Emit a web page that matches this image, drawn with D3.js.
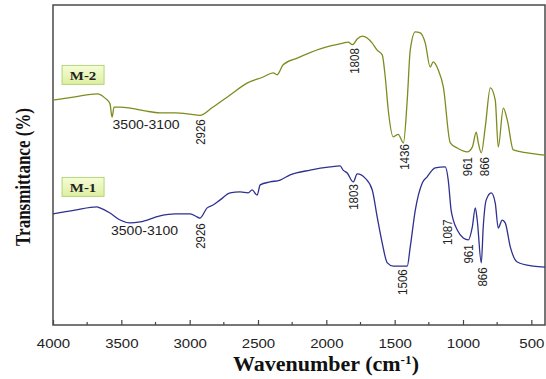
<!DOCTYPE html>
<html>
<head>
<meta charset="utf-8">
<script src="https://cdn.jsdelivr.net/npm/d3@7"></script>
<style>
  body { margin: 0; background: #fff; }
  svg { display: block; }
</style>
</head>
<body>
<svg id="chart" width="546" height="379"></svg>
<script>
// wavenumber (cm-1), transmittance (arbitrary %)
const m2Spectrum = [
  [4000, 70.3], [3839, 71.3], [3678, 72.2], [3619, 70.9], [3583, 69.1], [3568, 65.0],
  [3553, 68.1], [3509, 68.1], [3436, 67.8], [3326, 66.9], [3217, 66.3], [3107, 66.3],
  [2997, 65.9], [2926, 65.5], [2829, 68.1], [2704, 71.9], [2580, 75.6], [2462, 77.5],
  [2389, 78.8], [2360, 78.2], [2316, 81.3], [2213, 83.4], [2045, 86.3], [1877, 88.1],
  [1840, 88.4], [1808, 87.6], [1774, 89.4], [1737, 90.3], [1701, 89.7], [1664, 88.1],
  [1628, 85.9], [1591, 84.4], [1569, 77.5], [1547, 67.2], [1510, 58.8], [1474, 59.6],
  [1436, 56.9], [1408, 70.3], [1386, 85.9], [1349, 91.6], [1313, 91.3], [1276, 88.1],
  [1240, 80.6], [1218, 82.2], [1181, 79.7], [1144, 74.4], [1093, 56.9], [1042, 55.3],
  [969, 54.1], [932, 55.6], [903, 60.3], [888, 56.9], [866, 53.8], [837, 61.9],
  [800, 74.1], [764, 70.3], [742, 55.6], [705, 67.8], [676, 64.1], [632, 54.7],
  [529, 53.8], [400, 53.1]
];

const m1Spectrum = [
  [4000, 34.7], [3839, 35.9], [3678, 36.9], [3656, 36.6], [3583, 35.0], [3509, 32.8],
  [3436, 31.9], [3363, 32.2], [3217, 34.1], [3107, 34.7], [2997, 34.7], [2946, 33.8],
  [2926, 33.4], [2872, 36.6], [2829, 37.5], [2777, 39.1], [2704, 41.3], [2631, 41.6],
  [2572, 41.3], [2543, 42.2], [2506, 40.6], [2484, 43.8], [2411, 44.7], [2338, 45.3],
  [2265, 46.9], [2118, 48.4], [1972, 49.4], [1899, 49.7], [1877, 48.4], [1847, 47.5],
  [1803, 44.7], [1774, 47.2], [1716, 45.9], [1664, 42.2], [1628, 33.8], [1591, 25.6],
  [1554, 19.4], [1510, 18.4], [1408, 18.4], [1386, 24.4], [1349, 35.9], [1298, 44.4],
  [1262, 46.3], [1225, 48.4], [1203, 49.1], [1130, 49.4], [1108, 45.3], [1087, 35.9],
  [1071, 32.8], [1042, 29.7], [998, 27.2], [961, 26.6], [932, 30.6], [910, 36.6],
  [896, 32.8], [866, 19.4], [852, 30.6], [830, 39.1], [793, 41.3], [764, 38.1],
  [742, 30.3], [713, 32.8], [691, 31.9], [654, 24.4], [603, 19.7], [485, 18.4],
  [400, 18.1]
];

const majorTicks = [4000, 3500, 3000, 2500, 2000, 1500, 1000, 500];
const minorTicks = [3750, 3250, 2750, 2250, 1750, 1250, 750];

// [label, wavenumber where it sits, transmittance level, rotated]
const m2Notes = [
  ["3500-3100", 3319, 62.5, false],
  ["2926", 2916, 60.3, true],
  ["1808", 1790, 82.5, true],
  ["1436", 1426, 52.5, true],
  ["961", 968, 49.5, true],
  ["866", 844, 49.5, true]
];
const m1Notes = [
  ["3500-3100", 3330, 29.4, false],
  ["2926", 2916, 27.8, true],
  ["1803", 1796, 40.0, true],
  ["1506", 1440, 13.4, true],
  ["1087", 1115, 29.0, true],
  ["961", 961, 22.2, true],
  ["866", 855, 15.0, true]
];

const samples = [
  { name: "M-2", data: m2Spectrum, notes: m2Notes, color: "#7f8b1e", tag: 78 },
  { name: "M-1", data: m1Spectrum, notes: m1Notes, color: "#2e318f", tag: 43 }
];

const svg = d3.select("#chart");
const plotLeft = 53, plotRight = 545, plotTop = 5, plotBottom = 325;

const x = d3.scaleLinear().domain([4000, 400]).range([plotLeft, plotRight]);
const y = d3.scaleLinear().domain([0, 100]).range([plotBottom, plotTop]);

// gradient for the name boxes
const grad = svg.append("defs").append("linearGradient")
  .attr("id", "tagFill").attr("x1", 0).attr("y1", 0).attr("x2", 0).attr("y2", 1);
grad.append("stop").attr("offset", "0%").attr("stop-color", "#f6fcd8");
grad.append("stop").attr("offset", "100%").attr("stop-color", "#ddefa0");

// x axis with inward ticks
const xAxis = svg.append("g")
  .attr("transform", `translate(0,${plotBottom})`)
  .call(d3.axisBottom(x).tickValues(majorTicks).tickSize(-5).tickPadding(14).tickFormat(d3.format("d")));
xAxis.select(".domain").remove();
xAxis.selectAll(".tick line").attr("stroke", "#444").attr("stroke-width", 1.2);
xAxis.selectAll(".tick text")
  .attr("font-family", "Liberation Sans, Arial, sans-serif")
  .attr("font-size", 12)
  .attr("fill", "#222")
  .attr("transform", "scale(1.25,1)");

svg.append("g").selectAll("line")
  .data(minorTicks)
  .join("line")
  .attr("x1", d => x(d)).attr("x2", d => x(d))
  .attr("y1", plotBottom).attr("y2", plotBottom - 3)
  .attr("stroke", "#444").attr("stroke-width", 1.2);

// frame
svg.append("rect")
  .attr("x", plotLeft).attr("y", plotTop)
  .attr("width", plotRight - plotLeft).attr("height", plotBottom - plotTop)
  .attr("fill", "none").attr("stroke", "#4a4a4a").attr("stroke-width", 1.5);

const line = d3.line()
  .x(d => x(d[0]))
  .y(d => y(d[1]))
  .curve(d3.curveMonotoneX);

samples.forEach(s => {
  svg.append("path")
    .datum(s.data)
    .attr("fill", "none")
    .attr("stroke", s.color)
    .attr("stroke-width", 1.3)
    .attr("d", line);

  s.notes.forEach(([label, w, lvl, rot]) => {
    const t = svg.append("text")
      .attr("font-family", "Liberation Sans, Arial, sans-serif")
      .attr("fill", "#222")
      .attr("text-anchor", "middle")
      .attr("dominant-baseline", "central")
      .text(label);
    if (rot) {
      t.attr("font-size", 11.5)
        .attr("transform", `translate(${x(w)},${y(lvl)}) rotate(-90) scale(1,1.15)`);
    } else {
      t.attr("font-size", 12)
        .attr("transform", `translate(${x(w)},${y(lvl)}) scale(1.17,1)`);
    }
  });

  // name tag
  const tag = svg.append("g")
    .attr("transform", `translate(${x(3780)},${y(s.tag)})`);
  tag.append("rect")
    .attr("x", -21).attr("y", -10).attr("width", 42).attr("height", 19)
    .attr("fill", "url(#tagFill)").attr("stroke", "#b3d47a").attr("stroke-width", 1);
  tag.append("text")
    .attr("text-anchor", "middle")
    .attr("dominant-baseline", "central")
    .attr("font-family", "Liberation Serif, Times New Roman, serif")
    .attr("font-weight", "bold")
    .attr("font-size", 13)
    .attr("fill", "#222")
    .attr("transform", "scale(1.15,1)")
    .text(s.name);
});

// axis titles
const xTitle = svg.append("text")
  .attr("text-anchor", "middle")
  .attr("font-family", "Liberation Serif, Times New Roman, serif")
  .attr("font-weight", "bold")
  .attr("font-size", 20)
  .attr("fill", "#111")
  .attr("transform", `translate(${(plotLeft + plotRight) / 2 + 27},371) scale(1.1,1)`);
xTitle.append("tspan").text("Wavenumber (cm");
xTitle.append("tspan").attr("font-size", 12).attr("dy", -7).text("-1");
xTitle.append("tspan").attr("dy", 7).text(")");

svg.append("text")
  .attr("text-anchor", "middle")
  .attr("dominant-baseline", "central")
  .attr("font-family", "Liberation Serif, Times New Roman, serif")
  .attr("font-weight", "bold")
  .attr("font-size", 17)
  .attr("fill", "#111")
  .attr("transform", "translate(23,177) rotate(-90) scale(1,1.25)")
  .text("Transmittance (%)");
</script>
</body>
</html>
